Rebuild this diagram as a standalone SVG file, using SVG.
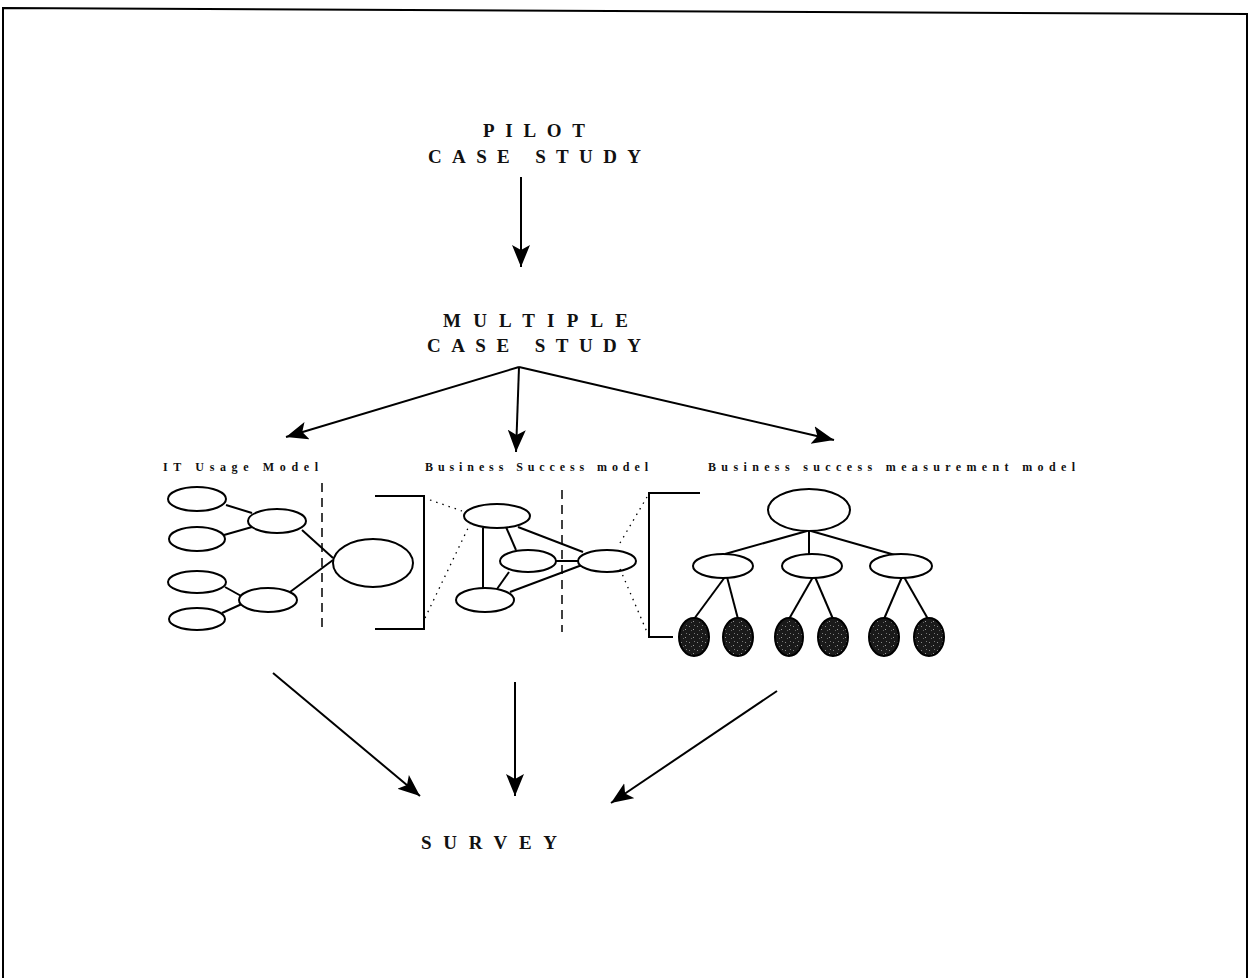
<svg xmlns="http://www.w3.org/2000/svg" width="1250" height="978" viewBox="0 0 1250 978">
<style>
.t{font-family:"Liberation Serif","Times New Roman",serif;font-weight:bold;fill:#111}
.big{font-size:19px}
.lab{font-size:12px}
.e{fill:#fff;stroke:#000;stroke-width:2}
.leaf{fill:url(#speck);stroke:#000;stroke-width:2}
.ln{stroke:#000;stroke-width:2;fill:none}
.dash{stroke:#000;stroke-width:1.5;stroke-dasharray:9 6;fill:none}
.dot{stroke:#000;stroke-width:1.3;stroke-dasharray:1.5 5;fill:none}
.ar{stroke:#000;stroke-width:2;fill:none;marker-end:url(#ah)}
</style>
<defs>
<marker id="ah" markerUnits="userSpaceOnUse" markerWidth="24" markerHeight="20" refX="22" refY="9" orient="auto">
<path d="M0,0 L22,9 L0,18 L5,9 Z" fill="#000"/>
</marker>
<pattern id="speck" patternUnits="userSpaceOnUse" width="8" height="8">
<rect width="8" height="8" fill="#1a1a1a"/>
<rect x="1" y="2" width="1" height="1" fill="#888"/>
<rect x="5" y="5" width="1" height="1" fill="#999"/>
<rect x="3" y="6" width="1" height="1" fill="#666"/>
<rect x="6" y="1" width="1" height="1" fill="#777"/>
</pattern>
</defs>
<rect width="1250" height="978" fill="#fff"/>
<polyline id="border" class="ln" points="3,978 3,8 1247,14 1247,978"/>

<g id="pilot">
<text class="t big" x="483" y="137" textLength="102" lengthAdjust="spacing">PILOT</text>
<text class="t big" x="428" y="163" textLength="213" lengthAdjust="spacing">CASE STUDY</text>
</g>
<g id="multiple">
<text class="t big" x="443" y="327" textLength="185" lengthAdjust="spacing">MULTIPLE</text>
<text class="t big" x="427" y="352" textLength="214" lengthAdjust="spacing">CASE STUDY</text>
</g>
<g id="survey">
<text class="t big" x="421" y="849" textLength="136" lengthAdjust="spacing">SURVEY</text>
</g>

<g id="connectors">
<line class="ar" x1="521" y1="177" x2="521" y2="267"/>
<line class="ar" x1="519" y1="367" x2="286" y2="437"/>
<line class="ar" x1="519" y1="367" x2="516" y2="452"/>
<line class="ar" x1="519" y1="367" x2="834" y2="440"/>
<line class="ar" x1="273" y1="673" x2="420" y2="796"/>
<line class="ar" x1="515" y1="682" x2="515" y2="796"/>
<line class="ar" x1="777" y1="691" x2="611" y2="803"/>
</g>

<g id="it-usage-model">
<text class="t lab" x="163" y="471" textLength="155" lengthAdjust="spacing">IT Usage Model</text>
<line class="ln" x1="226" y1="505" x2="252" y2="513"/>
<line class="ln" x1="224" y1="535" x2="252" y2="527"/>
<line class="ln" x1="225" y1="587" x2="243" y2="597"/>
<line class="ln" x1="222" y1="613" x2="244" y2="603"/>
<line class="ln" x1="302" y1="530" x2="333" y2="558"/>
<line class="ln" x1="290" y1="592" x2="333" y2="560"/>
<ellipse class="e" cx="197" cy="499" rx="29" ry="12"/>
<ellipse class="e" cx="197" cy="539" rx="28" ry="12"/>
<ellipse class="e" cx="277" cy="521" rx="29" ry="12"/>
<ellipse class="e" cx="197" cy="582" rx="29" ry="11"/>
<ellipse class="e" cx="197" cy="619" rx="28" ry="11"/>
<ellipse class="e" cx="268" cy="600" rx="29" ry="12"/>
<ellipse class="e" cx="373" cy="563" rx="40" ry="24"/>
<line class="dash" x1="322" y1="483" x2="322" y2="630"/>
<polyline class="ln" points="375,496 424,496 424,629 375,629"/>
</g>

<g id="business-success-model">
<text class="t lab" x="425" y="471" textLength="223" lengthAdjust="spacing">Business Success model</text>
<line class="dot" x1="430" y1="500" x2="462" y2="511"/>
<line class="dot" x1="425" y1="618" x2="470" y2="524"/>
<line class="ln" x1="483" y1="528" x2="483" y2="589"/>
<line class="ln" x1="506" y1="527" x2="516" y2="550"/>
<line class="ln" x1="518" y1="527" x2="583" y2="552"/>
<line class="ln" x1="556" y1="561" x2="579" y2="561"/>
<line class="ln" x1="497" y1="589" x2="509" y2="572"/>
<line class="ln" x1="510" y1="592" x2="582" y2="565"/>
<ellipse class="e" cx="497" cy="516" rx="33" ry="12"/>
<ellipse class="e" cx="528" cy="561" rx="28" ry="11"/>
<ellipse class="e" cx="485" cy="600" rx="29" ry="12"/>
<ellipse class="e" cx="607" cy="561" rx="29" ry="11"/>
<line class="dash" x1="562" y1="490" x2="562" y2="632"/>
<line class="dot" x1="620" y1="543" x2="647" y2="497"/>
<line class="dot" x1="620" y1="569" x2="647" y2="632"/>
<polyline class="ln" points="700,493 649,493 649,637 673,637"/>
</g>

<g id="business-success-measurement-model">
<text class="t lab" x="708" y="471" textLength="367" lengthAdjust="spacing">Business success measurement model</text>
<line class="ln" x1="807" y1="531" x2="725" y2="554"/>
<line class="ln" x1="809" y1="531" x2="809" y2="554"/>
<line class="ln" x1="811" y1="531" x2="895" y2="555"/>
<line class="ln" x1="725" y1="577" x2="694" y2="619"/>
<line class="ln" x1="727" y1="577" x2="738" y2="619"/>
<line class="ln" x1="813" y1="577" x2="789" y2="619"/>
<line class="ln" x1="815" y1="577" x2="833" y2="619"/>
<line class="ln" x1="902" y1="577" x2="884" y2="619"/>
<line class="ln" x1="904" y1="577" x2="928" y2="619"/>
<ellipse class="e" cx="809" cy="510" rx="41" ry="21"/>
<ellipse class="e" cx="723" cy="566" rx="30" ry="12"/>
<ellipse class="e" cx="812" cy="566" rx="30" ry="12"/>
<ellipse class="e" cx="901" cy="566" rx="31" ry="12"/>
<ellipse class="leaf" cx="694" cy="637" rx="15" ry="19"/>
<ellipse class="leaf" cx="738" cy="637" rx="15" ry="19"/>
<ellipse class="leaf" cx="789" cy="637" rx="14" ry="19"/>
<ellipse class="leaf" cx="833" cy="637" rx="15" ry="19"/>
<ellipse class="leaf" cx="884" cy="637" rx="15" ry="19"/>
<ellipse class="leaf" cx="929" cy="637" rx="15" ry="19"/>
</g>
</svg>
